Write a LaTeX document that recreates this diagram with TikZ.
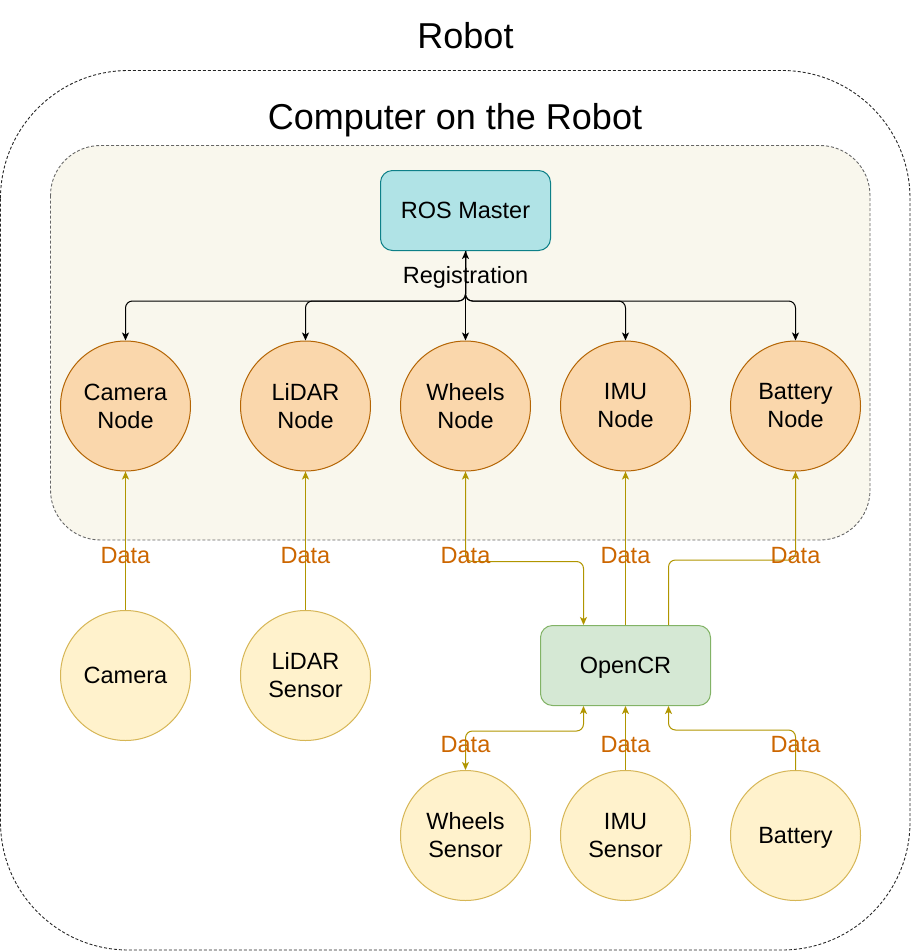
\documentclass[tikz,border=0pt]{standalone}
\usepackage{fontspec}
\setmainfont{Liberation Sans}
\usetikzlibrary{arrows.meta}
\definecolor{innerfill}{HTML}{F9F7ED}
\definecolor{innerline}{HTML}{666666}
\definecolor{rosfill}{HTML}{B0E3E6}
\definecolor{rosline}{HTML}{0E8088}
\definecolor{nodefill}{HTML}{FAD7AC}
\definecolor{nodeline}{HTML}{B46504}
\definecolor{sensfill}{HTML}{FFF2CC}
\definecolor{sensline}{HTML}{D6B656}
\definecolor{ocfill}{HTML}{D5E8D4}
\definecolor{ocline}{HTML}{82B366}
\definecolor{dataline}{HTML}{B09500}
\definecolor{datatext}{HTML}{CC6600}
\tikzset{
  tip/.tip={Stealth[length=8pt,width=7pt,inset=2pt]},
  titletext/.style={font=\fontsize{36}{42}\selectfont},
  nodecirc/.style={circle, minimum size=130pt, inner sep=0pt, align=center,
    fill=nodefill, draw=nodeline, line width=1pt, font=\fontsize{23.5}{28}\selectfont},
  senscirc/.style={circle, minimum size=130pt, inner sep=0pt, align=center,
    fill=sensfill, draw=sensline, line width=1pt, font=\fontsize{23.5}{28}\selectfont},
  boxnode/.style={rectangle, rounded corners=12pt, minimum width=170pt, minimum height=80pt,
    line width=1pt, font=\fontsize{23.5}{28}\selectfont},
  reg/.style={draw=black, line width=1pt, rounded corners=7pt},
  data/.style={draw=dataline, line width=1pt, rounded corners=7pt},
  datalabel/.style={text=datatext, font=\fontsize{23.5}{28}\selectfont, inner sep=0pt},
}
\begin{document}
\begin{tikzpicture}[x=1pt,y=-1pt]
\useasboundingbox (0,0) rectangle (911,951);
% outer robot box
\draw[draw=black!85, line width=0.9pt, dash pattern=on 3pt off 2pt, rounded corners=128pt]
  (0.5,70.5) rectangle (910,950);
\node[titletext] (robottitle) at (465.5,36) {Robot};
\node[titletext, text depth=0pt] (comptitle) at (455,116) {Computer on the Robot};
% inner computer box
\draw[fill=innerfill, draw=innerline, line width=0.9pt, dash pattern=on 3pt off 2pt, rounded corners=50pt]
  (50.5,145.5) rectangle (870,540);
% ROS master
\node[boxnode, fill=rosfill, draw=rosline] (ros) at (465.5,210.5) {ROS Master};
% nodes
\node[nodecirc] (camn) at (125.5,406) {Camera\\Node};
\node[nodecirc] (lidn) at (305.5,406) {LiDAR\\Node};
\node[nodecirc] (whn) at (465.5,406) {Wheels\\Node};
\node[nodecirc] (imun) at (625.5,406) {IMU\\Node};
\node[nodecirc] (batn) at (795.5,406) {Battery\\Node};
% sensors
\node[senscirc] (cams) at (125.5,675.5) {Camera};
\node[senscirc] (lids) at (305.5,675.5) {LiDAR\\Sensor};
\node[boxnode, fill=ocfill, draw=ocline, text depth=0pt] (oc) at (625.5,665.5) {OpenCR};
\node[senscirc] (whs) at (465.5,835.5) {Wheels\\Sensor};
\node[senscirc] (imus) at (625.5,835.5) {IMU\\Sensor};
\node[senscirc, text depth=0pt] (bats) at (795.5,835.5) {Battery};
% registration connectors
\draw[reg, {tip}-{tip}] (ros.south) -- (whn.north);
\draw[reg, -{tip}] (ros.south) -- ++(0,50) -| (camn.north);
\draw[reg, -{tip}] (ros.south) -- ++(0,50) -| (lidn.north);
\draw[reg, -{tip}] (ros.south) -- ++(0,50) -| (imun.north);
\draw[reg, -{tip}] (ros.south) -- ++(0,50) -| (batn.north);
\node[font=\fontsize{23.5}{28}\selectfont, inner sep=0pt, text depth=0pt] (reglabel) at (465.5,275) {Registration};
% data connectors
\draw[data, -{tip}] (cams.north) -- (camn.south);
\draw[data, -{tip}] (lids.north) -- (lidn.south);
\draw[data, {tip}-{tip}] (whn.south) -- ++(0,90) -| ([xshift=-42pt]oc.north);
\draw[data, -{tip}] (oc.north) -- (imun.south);
\draw[data, -{tip}] ([xshift=43pt]oc.north) -- ++(0,-65) -| (batn.south);
\draw[data, {tip}-{tip}] ([xshift=-42pt]oc.south) -- ++(0,25) -| (whs.north);
\draw[data, -{tip}] (imus.north) -- (oc.south);
\draw[data, -{tip}] (bats.north) -- ++(0,-40) -| ([xshift=43pt]oc.south);
% data labels
\node[datalabel] (d1) at (125.5,556) {Data};
\node[datalabel] (d2) at (305.5,556) {Data};
\node[datalabel] (d3) at (465.5,556) {Data};
\node[datalabel] (d4) at (625.5,556) {Data};
\node[datalabel] (d5) at (795.5,556) {Data};
\node[datalabel] (d6) at (465.5,745) {Data};
\node[datalabel] (d7) at (625.5,745) {Data};
\node[datalabel] (d8) at (795.5,745) {Data};
\end{tikzpicture}
\end{document}
